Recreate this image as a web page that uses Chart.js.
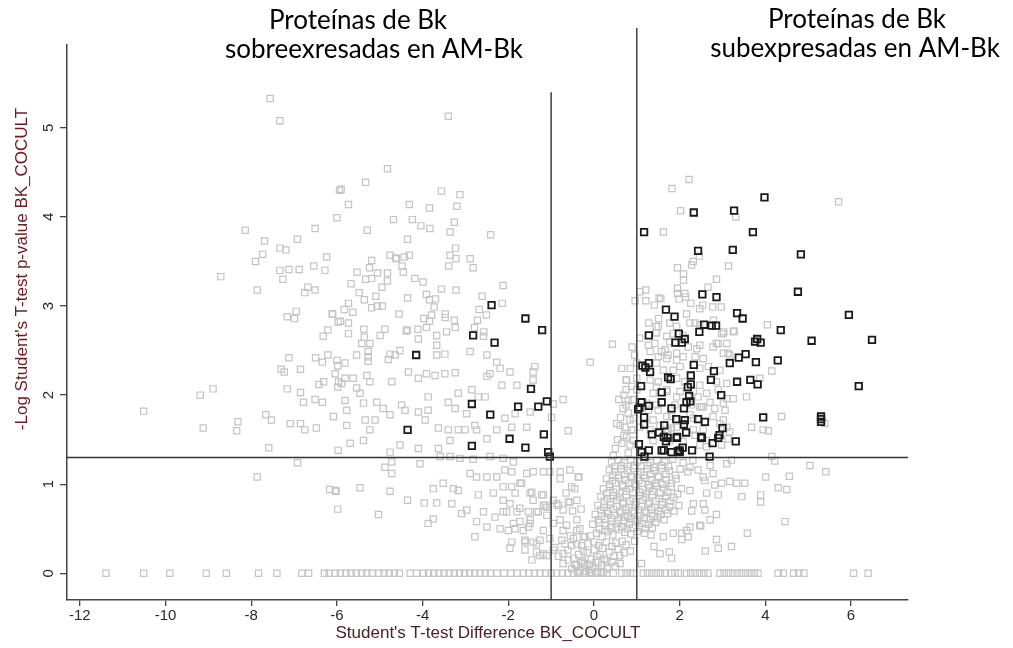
<!DOCTYPE html>
<html>
<head>
<meta charset="utf-8">
<script src="https://cdn.jsdelivr.net/npm/chart.js@4"></script>
<style>
  body { margin: 0; background: #fff; }
  canvas { display: block; }
</style>
</head>
<body>
<canvas id="volcano" width="1013" height="648"></canvas>
<script>
// significant proteins (black squares) [difference, -log p]
const blackPoints = [
  [-2.39,3.01],[-1.60,2.86],[-1.21,2.73],[-2.82,2.67],[-2.32,2.59],[-4.15,2.45],[-1.47,2.07],
  [-2.85,1.90],[-2.42,1.78],[-1.77,1.87],[-1.30,1.87],[-1.10,1.93],[-4.35,1.61],[-1.97,1.51],
  [-1.17,1.56],[-2.85,1.43],[-1.60,1.41],[-1.07,1.36],[-1.03,1.31],
  [2.33,4.05],[3.27,4.07],[3.98,4.22],[1.17,3.83],[3.71,3.83],[2.43,3.62],[3.24,3.63],[4.83,3.58],
  [2.53,3.13],[2.86,3.10],[4.76,3.16],[1.68,2.96],[1.88,2.88],[3.34,2.92],[3.47,2.86],[5.95,2.90],
  [2.57,2.79],[2.75,2.78],[2.85,2.78],[4.36,2.73],[1.28,2.67],[1.98,2.69],[2.46,2.71],[3.81,2.63],
  [5.08,2.61],[6.49,2.62],[1.90,2.59],[2.05,2.59],[2.12,2.63],[3.76,2.60],[3.89,2.59],
  [1.13,2.33],[1.20,2.31],[1.28,2.36],[1.31,2.26],[2.33,2.34],[2.80,2.27],[3.17,2.36],[3.38,2.42],
  [3.54,2.46],[3.78,2.37],[4.29,2.39],[1.73,2.20],[1.79,2.18],[2.26,2.22],[2.73,2.17],[3.34,2.15],
  [3.65,2.17],[3.82,2.12],[1.10,2.10],[1.58,2.03],[2.19,2.09],[2.26,2.12],[2.22,1.99],[2.97,2.00],
  [6.18,2.10],[1.11,1.92],[1.06,1.86],[1.03,1.84],[1.28,1.88],[1.58,1.92],[1.81,1.85],[2.10,1.85],
  [2.16,1.92],[2.25,1.93],[1.17,1.75],[1.17,1.67],[1.92,1.73],[2.12,1.72],[2.10,1.67],[2.43,1.73],
  [2.59,1.70],[3.95,1.75],[5.30,1.76],[5.30,1.73],[5.30,1.70],[1.64,1.66],[1.35,1.56],[1.52,1.58],
  [1.63,1.53],[1.72,1.52],[1.93,1.52],[1.94,1.53],[2.15,1.58],[2.52,1.52],[2.50,1.53],[2.90,1.52],
  [2.93,1.55],[3.00,1.63],[2.77,1.46],[3.31,1.48],[1.05,1.45],[1.11,1.36],[1.28,1.38],[1.18,1.31],
  [1.58,1.38],[1.63,1.38],[1.68,1.48],[1.81,1.36],[1.96,1.37],[2.00,1.38],[2.07,1.41],[2.00,1.36],
  [2.29,1.38],[2.70,1.31]
];

// non significant, left half
const grayLeft = [
  [-7.56,5.33],[-7.33,5.08],[-3.40,5.13],[-5.94,4.30],[-6.00,3.99],[-6.51,3.87],[-8.14,3.85],
  [-7.69,3.73],[-6.92,3.75],[-7.33,3.65],[-7.19,3.63],[-7.73,3.58],[-7.90,3.50],[-6.24,3.55],
  [-8.71,3.33],[-7.33,3.40],[-7.12,3.41],[-6.88,3.41],[-7.26,3.30],[-6.54,3.45],[-6.28,3.40],
  [-7.86,3.18],[-6.68,3.21],[-6.75,3.15],[-6.51,3.18],[-6.95,2.94],[-7.16,2.88],[-6.99,2.86],
  [-6.11,2.91],[-5.97,2.82],[-6.21,2.73],[-6.32,2.66],[-7.12,2.42],[-6.50,2.42],[-6.34,2.37],
  [-6.21,2.45],[-6.00,2.39],[-5.98,2.33],[-7.30,2.29],[-7.23,2.26],[-6.85,2.29],[-7.16,2.07],
  [-6.85,2.03],[-6.78,1.92],[-6.42,2.12],[-6.31,2.15],[-5.96,2.15],[-5.98,2.09],[-6.51,1.95],
  [-6.34,1.92],[-9.19,2.00],[-8.89,2.07],[-10.51,1.82],[-9.12,1.63],[-8.31,1.70],[-8.34,1.60],
  [-7.66,1.78],[-7.53,1.72],[-7.09,1.68],[-6.85,1.68],[-6.75,1.61],[-6.48,1.63],[-6.08,1.76],
  [-7.59,1.41],[-5.97,1.38],[-6.92,1.24],[-7.86,1.08],[-6.17,0.94],[-6.02,0.92],[-5.98,0.72],
  [-4.82,4.54],[-5.33,4.39],[-5.90,4.31],[-3.56,4.29],[-3.13,4.25],[-5.73,4.14],[-4.31,4.14],
  [-3.84,4.10],[-3.20,4.12],[-4.68,3.97],[-4.24,3.97],[-4.04,3.90],[-3.83,3.87],[-5.29,3.85],
  [-3.26,3.94],[-3.36,3.83],[-2.41,3.80],[-4.35,3.75],[-3.23,3.65],[-3.36,3.57],[-3.22,3.53],
  [-3.39,3.45],[-2.89,3.53],[-2.82,3.43],[-4.76,3.57],[-4.63,3.54],[-4.61,3.53],[-4.43,3.55],
  [-4.31,3.57],[-5.19,3.51],[-5.24,3.43],[-5.05,3.37],[-5.19,3.31],[-5.33,3.30],[-5.53,3.38],
  [-5.67,3.25],[-4.82,3.37],[-4.82,3.28],[-4.95,3.21],[-4.48,3.45],[-4.45,3.38],[-4.18,3.31],
  [-3.99,3.27],[-3.56,3.19],[-3.22,3.18],[-2.12,3.23],[-5.48,3.15],[-5.36,3.07],[-5.09,3.11],
  [-5.19,2.98],[-5.06,3.00],[-4.94,3.00],[-5.73,3.03],[-5.83,2.96],[-5.63,2.93],[-6.10,2.91],
  [-5.92,2.83],[-5.73,2.81],[-4.35,3.09],[-3.91,3.13],[-3.84,3.07],[-3.70,3.08],[-3.73,2.99],
  [-4.55,2.91],[-3.97,2.86],[-3.79,2.90],[-3.84,2.83],[-3.47,2.91],[-3.47,2.87],[-3.26,2.84],
  [-2.61,3.11],[-2.68,2.96],[-2.51,2.90],[-2.72,2.84],[-2.79,2.76],[-2.14,3.03],[-5.37,2.74],
  [-4.88,2.74],[-4.36,2.73],[-4.11,2.74],[-3.91,2.76],[-3.67,2.67],[-3.44,2.71],[-3.24,2.76],
  [-4.99,2.67],[-5.73,2.69],[-2.57,2.71],[-5.36,2.65],[-4.38,2.72],[-4.10,2.63],[-2.58,2.66],
  [-5.42,2.58],[-5.23,2.58],[-5.54,2.45],[-5.27,2.49],[-5.27,2.43],[-5.27,2.38],[-4.76,2.46],
  [-4.80,2.40],[-4.53,2.50],[-4.64,2.45],[-5.81,2.36],[-6.04,2.24],[-5.81,2.19],[-5.62,2.19],
  [-5.30,2.22],[-5.23,2.15],[-4.72,2.15],[-4.33,2.26],[-4.10,2.19],[-3.91,2.24],[-3.71,2.22],
  [-3.48,2.24],[-3.24,2.25],[-3.67,2.56],[-3.67,2.45],[-3.48,2.46],[-2.89,2.49],[-2.50,2.45],
  [-2.27,2.37],[-2.19,2.30],[-2.43,2.24],[-1.96,2.26],[-1.38,2.32],[-1.42,2.26],[-1.42,2.17],
  [-1.80,2.11],[-2.15,2.11],[-2.50,2.21],[-0.09,2.37],[-0.72,1.95],[-0.95,1.90],[-0.99,1.75],
  [-0.60,1.60],[-5.89,2.13],[-5.54,2.08],[-5.46,2.02],[-5.81,1.94],[-5.77,1.83],[-5.38,1.91],
  [-5.07,1.92],[-4.92,1.85],[-4.76,1.78],[-4.49,1.89],[-4.41,1.83],[-4.10,1.81],[-3.87,1.98],
  [-3.87,1.83],[-3.94,1.72],[-3.63,1.63],[-3.40,1.61],[-3.17,1.61],[-3.01,1.61],[-2.78,1.66],
  [-2.74,1.61],[-2.50,1.51],[-2.27,1.61],[-1.92,1.64],[-1.57,1.64],[-2.08,1.74],[-1.84,1.79],
  [-1.49,1.81],[-3.17,2.02],[-2.85,2.06],[-2.70,1.98],[-2.54,1.98],[-3.40,1.92],[-3.24,1.85],
  [-2.97,1.79],[-3.36,1.49],[-3.63,1.40],[-4.10,1.40],[-4.53,1.44],[-4.76,1.36],[-5.69,1.46],
  [-5.23,1.61],[-5.38,1.49],[-5.77,1.66],[-5.34,1.72],[-5.11,1.72],
  [-6.04,0.93],[-5.46,0.96],[-4.76,0.92],[-5.03,0.66],[-4.35,0.82],[-3.96,0.79],[-3.67,0.79],
  [-3.32,0.78],[-4.88,1.19],[-4.72,1.25],[-4.72,1.12],[-4.06,1.23],[-3.59,1.31],[-3.36,1.31],
  [-3.13,1.29],[-2.82,1.28],[-2.43,1.31],[-2.12,1.29],[-1.88,1.25],[-3.75,0.95],[-3.52,1.01],
  [-3.28,0.95],[-3.17,0.93],[-2.89,1.12],[-2.74,1.08],[-2.50,1.08],[-2.27,1.08],[-2.08,1.16],
  [-1.92,1.14],[-1.57,1.12],[-1.42,1.14],[-1.18,1.14],[-1.03,1.14],[-0.79,1.14],[-0.56,1.16],
  [-0.37,1.08],[-0.52,0.97],[-1.18,0.88],[-1.49,0.90],[-1.73,1.01],[-1.92,0.97],[-2.12,0.97],
  [-2.35,0.90],[-2.70,0.88],[-2.97,0.71],[-3.09,0.67],[-2.58,0.69],[-2.31,0.63],[-2.12,0.69],
  [-1.96,0.78],[-1.80,0.69],[-1.53,0.69],[-1.30,0.69],[-1.10,0.74],[-0.87,0.78],[-0.60,0.80],
  [-0.40,0.82],[-2.74,0.58],[-2.50,0.52],[-2.19,0.50],[-1.88,0.56],[-1.49,0.56],[-1.18,0.48],
  [-0.95,0.56],[-0.72,0.48],[-0.40,0.48],[-0.25,0.41],[-3.87,0.56],[-3.75,0.61],[-2.78,0.41],
  [-1.92,0.35],[-1.61,0.35],[-1.34,0.33],[-1.96,0.28],[-1.45,0.15],[-1.18,0.22],[-0.72,0.22],
  [-0.40,0.33],[-0.72,0.11],[-1.69,1.01],[-1.84,0.90],[-1.45,0.91],[-1.22,0.88],[-1.42,0.82],
  [-1.18,0.76],[-2.12,0.82],[-2.04,0.69],[-1.73,0.73],[-1.34,0.69],[-1.73,0.58],[-1.49,0.60],
  [-2.00,0.48],[-1.84,0.50],[-1.65,0.48],[-1.53,0.52],[-1.10,0.65],[-1.14,0.76],[-0.95,0.82],
  [-0.83,0.76],[-0.72,0.71],[-0.56,0.80],[-0.79,0.60],[-0.64,0.54],[-0.33,0.50],[-0.21,0.41],
  [-0.48,0.39],[-0.75,0.37],[-1.03,0.39],[-1.26,0.37],[-1.42,0.35],[-1.61,0.37],[-1.61,0.26],
  [-1.34,0.24],[-1.26,0.20],[-1.10,0.20],[-0.95,0.26],[-0.35,1.08],[-0.79,1.06]
];

// non significant, dense cluster around zero
const grayCenter = [
  [-0.52,0.05],[-0.41,0.09],[-0.33,0.03],[-0.22,0.11],[-0.12,0.04],[-0.02,0.07],[0.09,0.02],
  [0.18,0.09],[0.31,0.05],[0.42,0.13],[-0.47,0.17],[-0.36,0.21],[-0.27,0.14],[-0.16,0.23],
  [-0.06,0.16],[0.04,0.12],[0.14,0.21],[0.24,0.16],[0.36,0.24],[0.47,0.19],[0.56,0.27],
  [-0.61,0.26],[-0.52,0.31],[-0.68,0.33],[-0.83,0.19],[-0.91,0.29],[0.61,0.11],[0.51,0.34],
  [0.66,0.36],[0.71,0.23],[-0.14,0.33],[0.11,0.31],[0.01,0.26],[-0.29,0.31],[0.29,0.35],
  [-0.05,0.01],[0.07,0.19],[-0.19,0.02],[0.22,0.01],[-0.38,0.01],
  [-0.08,0.42],[0.06,0.45],[0.19,0.41],[0.33,0.47],[0.44,0.43],[0.58,0.49],[0.72,0.46],
  [0.86,0.44],[1.01,0.47],[1.18,0.45],[1.33,0.43],[-0.03,0.55],[0.13,0.57],[0.27,0.54],
  [0.41,0.58],[0.55,0.56],[0.69,0.59],[0.83,0.55],[0.97,0.58],[1.12,0.56],[1.27,0.55],
  [1.44,0.57],[0.03,0.66],[0.18,0.64],[0.34,0.67],[0.48,0.65],[0.63,0.68],[0.79,0.64],
  [0.94,0.67],[1.08,0.65],[1.22,0.68],[1.38,0.64],[1.56,0.66],[1.72,0.67],[0.09,0.76],
  [0.23,0.74],[0.38,0.77],[0.53,0.75],[0.67,0.78],[0.82,0.74],[0.96,0.77],[1.11,0.75],
  [1.26,0.78],[1.42,0.74],[1.59,0.77],[1.77,0.75],[1.98,0.76],[0.16,0.86],[0.31,0.84],
  [0.45,0.87],[0.61,0.85],[0.76,0.88],[0.91,0.84],[1.06,0.87],[1.21,0.85],[1.36,0.88],
  [1.52,0.84],[1.68,0.86],[1.86,0.85],[0.22,0.95],[0.37,0.97],[0.52,0.94],[0.68,0.97],
  [0.83,0.95],[0.98,0.98],[1.14,0.94],[1.29,0.96],[1.46,0.98],[1.63,0.95],[1.81,0.97],
  [2.04,0.95],[0.29,1.06],[0.43,1.04],[0.58,1.07],[0.74,1.05],[0.89,1.08],[1.04,1.04],
  [1.19,1.07],[1.35,1.05],[1.51,1.08],[1.69,1.05],[1.92,1.06],[0.36,1.16],[0.49,1.14],
  [0.64,1.17],[0.79,1.15],[0.93,1.18],[1.09,1.14],[1.24,1.17],[1.41,1.15],[1.58,1.18],
  [1.76,1.15],[2.01,1.17],[2.19,1.14],[0.41,1.25],[0.56,1.27],[0.71,1.24],[0.86,1.27],
  [1.01,1.25],[1.16,1.28],[1.31,1.24],[1.47,1.27],[1.65,1.25],[1.84,1.28],[2.08,1.24],
  [2.31,1.27],
  [0.12,0.50],[0.26,0.49],[0.39,0.52],[0.52,0.51],[0.65,0.52],[0.78,0.50],[0.92,0.51],
  [1.06,0.52],[1.20,0.50],[1.36,0.51],[0.10,0.60],[0.25,0.61],[0.40,0.62],[0.56,0.60],
  [0.72,0.63],[0.87,0.61],[1.02,0.60],[1.17,0.62],[1.31,0.60],[1.48,0.62],[1.64,0.60],
  [0.16,0.71],[0.30,0.70],[0.45,0.72],[0.60,0.70],[0.74,0.72],[0.90,0.70],[1.04,0.71],
  [1.18,0.70],[1.34,0.72],[1.50,0.70],[1.68,0.71],[1.87,0.70],[0.24,0.81],[0.39,0.80],
  [0.53,0.82],[0.69,0.80],[0.84,0.81],[0.99,0.80],[1.14,0.82],[1.29,0.80],[1.45,0.81],
  [1.60,0.80],[1.78,0.81],[0.30,0.90],[0.45,0.91],[0.60,0.90],[0.75,0.92],[0.90,0.90],
  [1.06,0.91],[1.22,0.90],[1.38,0.92],[1.55,0.90],[1.72,0.91],[1.95,0.89],[0.36,1.00],
  [0.50,1.01],[0.66,0.99],[0.81,1.01],[0.96,1.00],[1.12,1.01],[1.27,0.99],[1.43,1.01],
  [1.60,1.00],[1.80,1.01],[0.44,1.10],[0.57,1.10],[0.71,1.11],[0.86,1.09],[1.01,1.11],
  [1.16,1.10],[1.32,1.11],[1.50,1.09],[1.68,1.11],[1.90,1.10],[0.48,1.20],[0.63,1.21],
  [0.78,1.20],[0.95,1.21],[1.10,1.20],[1.25,1.21],[1.40,1.19],[1.57,1.21],[1.74,1.20],
  [-0.45,0.10],[-0.30,0.12],[-0.10,0.10],[0.10,0.12],[0.30,0.14],[0.50,0.08],[-0.60,0.15],
  [-0.25,0.25],[0.00,0.35],[0.20,0.28],[0.42,0.30],[-0.55,0.42],[-0.40,0.60],[-0.50,0.70],
  [-0.30,0.72],[-0.65,0.90],[-0.45,0.95],[0.60,0.20],[0.75,0.32],[0.85,0.25],[0.95,0.36],
  [0.55,1.50],[0.70,1.55],[0.62,1.75],[0.80,1.80],[0.70,2.00],[0.58,1.95],[0.88,2.10],[0.65,2.30]
];

// non significant, right half
const grayRight = [
  [2.22,4.42],[1.82,4.32],[2.02,4.07],[3.31,4.00],[5.71,4.17],[1.62,3.83],[2.46,3.56],[2.32,3.50],
  [2.28,3.46],[1.95,3.43],[2.09,3.36],[2.09,3.29],[3.14,3.45],[2.86,3.30],[2.66,3.21],
  [1.07,3.16],[1.21,3.18],[0.96,3.06],[1.21,3.06],[1.41,3.01],[1.52,3.09],[1.56,3.08],
  [1.95,3.20],[1.95,3.14],[1.99,3.08],[2.12,3.14],[2.14,3.10],[2.26,3.03],[2.47,2.97],
  [2.54,3.01],[2.77,2.99],[2.97,2.99],[1.28,2.81],[1.51,2.86],[2.16,2.91],[2.36,2.81],
  [2.79,2.84],[4.05,2.79],[3.27,2.72],[3.03,2.71],[1.45,2.77],[1.45,2.70],
  [0.43,2.57],[0.89,2.54],[1.46,2.70],[1.70,2.66],[1.77,2.60],[2.47,2.56],[2.86,2.58],
  [3.02,2.69],[3.25,2.71],[1.27,2.56],[1.58,2.49],[1.73,2.45],[1.93,2.39],[2.08,2.43],
  [2.55,2.41],[3.02,2.47],[3.17,2.45],[3.87,2.19],[4.15,2.27],[3.56,1.98],[3.25,1.96],
  [3.02,1.91],[2.71,1.92],[2.55,1.87],[2.43,1.98],[1.93,1.98],[1.70,2.06],[1.46,2.09],
  [0.75,2.17],[0.75,2.06],[0.75,1.89],[0.92,1.74],[1.27,1.83],[1.50,1.83],[1.70,1.76],
  [1.81,1.76],[2.24,1.78],[2.47,1.87],[3.02,1.72],[3.68,1.64],[3.95,1.61],[4.07,1.60],
  [4.38,1.76],[3.17,1.59],[1.81,1.63],[1.54,1.66],[1.73,1.61],[2.47,1.44],[2.63,1.42],
  [2.98,1.44],[1.07,1.64],[0.92,1.61],[5.39,1.68],
  [1.50,2.77],[1.77,2.81],[1.93,2.77],[2.24,2.81],[2.47,2.79],[1.07,2.64],[1.42,2.58],
  [1.66,2.51],[1.85,2.69],[2.08,2.67],[2.20,2.54],[2.40,2.52],[2.78,2.54],[2.90,2.58],
  [2.98,2.69],[3.10,2.58],[3.13,2.47],[1.31,2.49],[1.50,2.43],[1.70,2.41],[1.93,2.47],
  [2.36,2.43],[1.00,2.36],[1.46,2.36],[1.62,2.28],[1.85,2.28],[2.01,2.32],[2.47,2.30],
  [2.67,2.32],[2.94,2.28],[1.00,2.19],[1.31,2.17],[1.50,2.15],[1.93,2.19],[2.12,2.15],
  [2.47,2.11],[2.86,2.15],[3.10,2.13],[1.00,2.06],[1.38,2.02],[1.70,2.04],[2.01,2.04],
  [2.32,2.04],[2.63,2.02],[2.90,2.06],[3.10,1.96],[1.23,1.91],[1.46,1.89],[1.89,1.89],
  [2.28,1.89],[2.51,1.87],[2.82,1.85],[3.06,1.83],[1.38,1.72],[2.05,1.72],[2.32,1.74],
  [2.78,1.76],[1.31,1.61],[1.70,1.61],[1.93,1.64],[2.32,1.61],[2.55,1.61],[2.94,1.68],
  [3.10,1.64],[1.38,1.49],[1.77,1.49],[2.08,1.48],[2.36,1.55],[2.63,1.49],[3.13,1.51],
  [0.76,2.17],[0.80,1.94],[0.68,1.85],[0.84,1.72],[0.61,1.66],[0.72,1.64],[0.88,1.61],
  [0.76,1.53],[0.65,1.46],[0.84,1.44],[0.92,1.49],[0.53,1.68],[0.50,1.40],[0.80,1.35],
  [0.45,1.32],[0.90,1.95],[0.85,2.30],[0.95,2.45],
  [4.15,1.31],[4.22,1.26],[5.04,1.21],[5.41,1.14],[4.01,1.08],[4.56,1.09],[4.30,0.96],
  [4.50,0.94],[3.45,0.86],[3.89,0.88],[3.89,0.80],[4.46,0.58],[3.58,0.45],[2.86,0.38],
  [2.90,0.28],[3.21,0.30],[1.54,0.22],[1.76,0.24],[1.81,0.17],[2.71,0.60],[2.86,0.66],
  [2.47,0.54],[2.24,0.52],[2.16,0.48],[1.85,0.45],[1.62,0.41],[2.32,0.78],[2.55,0.78],
  [2.59,0.71],[2.24,0.93],[2.63,0.90],[3.17,1.03],[3.33,1.01],[3.52,1.01],[2.98,1.01],
  [2.78,1.12],[2.55,1.08],[2.24,1.19],[2.43,1.16],[2.71,1.21],[3.10,1.23],[3.21,1.27],
  [2.28,0.70],[2.49,0.53],[2.05,0.45],[2.05,0.38],[2.20,0.41],[1.11,0.11],[2.59,1.04],
  [2.82,0.99],[2.90,0.88],[2.60,0.25],[1.40,0.30]
];

// proteins with -log p = 0 (bottom row)
const zeroRowX = [
  -11.39,-10.51,-9.90,-9.05,-8.58,-7.83,-7.40,-6.82,-6.66,-6.29,-6.18,-6.04,-5.92,-5.79,-5.67,
  -5.55,-5.42,-5.30,-5.18,-5.02,-4.90,-4.78,-4.66,-4.54,-4.29,-4.14,-3.98,-3.86,-3.74,-3.62,
  -3.50,-3.38,-3.26,-3.14,-3.02,-2.90,-2.78,-2.66,-2.54,-2.42,-2.26,-2.10,-1.94,-1.79,-1.65,
  -1.52,-1.39,-1.26,-1.13,-1.00,-0.87,-0.74,-0.61,-0.48,-0.35,-0.22,-0.09,0.04,0.17,0.30,0.45,
  0.65,0.75,0.85,0.92,1.15,1.25,1.35,1.45,1.55,1.65,1.81,1.89,1.97,2.16,2.26,2.36,2.46,2.56,
  2.66,2.94,3.04,3.14,3.24,3.34,3.44,3.54,3.64,3.74,3.83,4.30,4.42,4.66,4.78,4.90,6.06,6.40
];

// cut-offs: |difference| = 1, -log p = 1.3
const diffCutoffs = [-1, 1];
const pCutoff = 1.3;
const xRange = [-12.3, 7.33];
const yRange = [-0.3, 5.93];
const cutoffTops = [5.4, 6.12];

const xTitle = 'Student\'s T-test Difference BK_COCULT';
const yTitle = '-Log Student\'s T-test p-value BK_COCULT';
const headerLeft = ['Proteínas de Bk', 'sobreexresadas en AM-Bk'];
const headerRight = ['Proteínas de Bk', 'subexpresadas en AM-Bk'];

const toXY = p => ({ x: p[0], y: p[1] });
const grayAll = [...grayLeft, ...grayCenter, ...grayRight].map(toXY)
  .concat(zeroRowX.map(x => ({ x, y: 0 })));

const lineSet = data => ({
  data, showLine: true, pointRadius: 0, borderColor: '#333', borderWidth: 1.4, clip: false
});

const tickFont = '"Liberation Sans Narrow", "Liberation Sans", Arial, sans-serif';

const textPlugin = {
  id: 'texts',
  afterDraw(chart) {
    const { ctx, scales: { y } } = chart;
    ctx.save();
    ctx.fillStyle = '#2a2a2a';
    ctx.font = `15px ${tickFont}`;
    ctx.textAlign = 'center';
    ctx.textBaseline = 'middle';
    y.ticks.forEach(t => {
      ctx.save();
      ctx.translate(49, y.getPixelForValue(t.value));
      ctx.rotate(-Math.PI / 2);
      ctx.fillText(String(t.value), 0, 0);
      ctx.restore();
    });

    ctx.font = '17px "Liberation Sans", Arial, sans-serif';
    ctx.fillStyle = '#6b1a22';
    ctx.save();
    ctx.translate(22, 269);
    ctx.rotate(-Math.PI / 2);
    ctx.fillText(yTitle, 0, 0);
    ctx.restore();
    ctx.fillStyle = '#4a2228';
    ctx.fillText(xTitle, 488, 633);

    ctx.fillStyle = '#000';
    ctx.font = '26px Lato, "Open Sans", sans-serif';
    ctx.fillText(headerLeft[0], 358, 21);
    ctx.fillText(headerLeft[1], 374, 50);
    ctx.fillText(headerRight[0], 857, 20);
    ctx.fillText(headerRight[1], 855, 49);
    ctx.restore();
  }
};

new Chart(document.getElementById('volcano'), {
  type: 'scatter',
  data: {
    datasets: [
      lineSet([{ x: diffCutoffs[0], y: yRange[0] }, { x: diffCutoffs[0], y: cutoffTops[0] }]),
      lineSet([{ x: diffCutoffs[1], y: yRange[0] }, { x: diffCutoffs[1], y: cutoffTops[1] }]),
      lineSet([{ x: xRange[0], y: pCutoff }, { x: xRange[1], y: pCutoff }]),
      {
        data: blackPoints.map(toXY),
        pointStyle: 'rect',
        pointRadius: 4.6,
        pointBorderColor: '#1a1a1a',
        pointBackgroundColor: 'rgba(255,255,255,0)',
        pointBorderWidth: 1.8
      },
      {
        data: grayAll,
        pointStyle: 'rect',
        pointRadius: 4.4,
        pointBorderColor: '#c4c4c4',
        pointBackgroundColor: 'rgba(255,255,255,0)',
        pointBorderWidth: 1.2
      }
    ]
  },
  options: {
    responsive: false,
    animation: false,
    layout: { padding: { top: 45, right: 105, left: 0, bottom: 0 } },
    plugins: { legend: { display: false }, tooltip: { enabled: false } },
    scales: {
      x: {
        type: 'linear',
        min: xRange[0],
        max: xRange[1],
        afterFit: s => { s.height = 48; },
        border: { display: true, color: '#444', width: 1.5 },
        grid: { drawOnChartArea: false, drawTicks: true, tickLength: 6, color: '#444', lineWidth: 1.3 },
        ticks: {
          stepSize: 2,
          includeBounds: false,
          padding: 1,
          color: '#2a2a2a',
          maxRotation: 0,
          font: { family: tickFont, size: 15 }
        }
      },
      y: {
        type: 'linear',
        min: yRange[0],
        max: yRange[1],
        afterFit: s => { s.width = 67; },
        border: { display: true, color: '#444', width: 1.5 },
        grid: { drawOnChartArea: false, drawTicks: true, tickLength: 7, color: '#444', lineWidth: 1.3 },
        ticks: { stepSize: 1, includeBounds: false, display: false }
      }
    }
  },
  plugins: [textPlugin]
});
</script>
</body>
</html>
